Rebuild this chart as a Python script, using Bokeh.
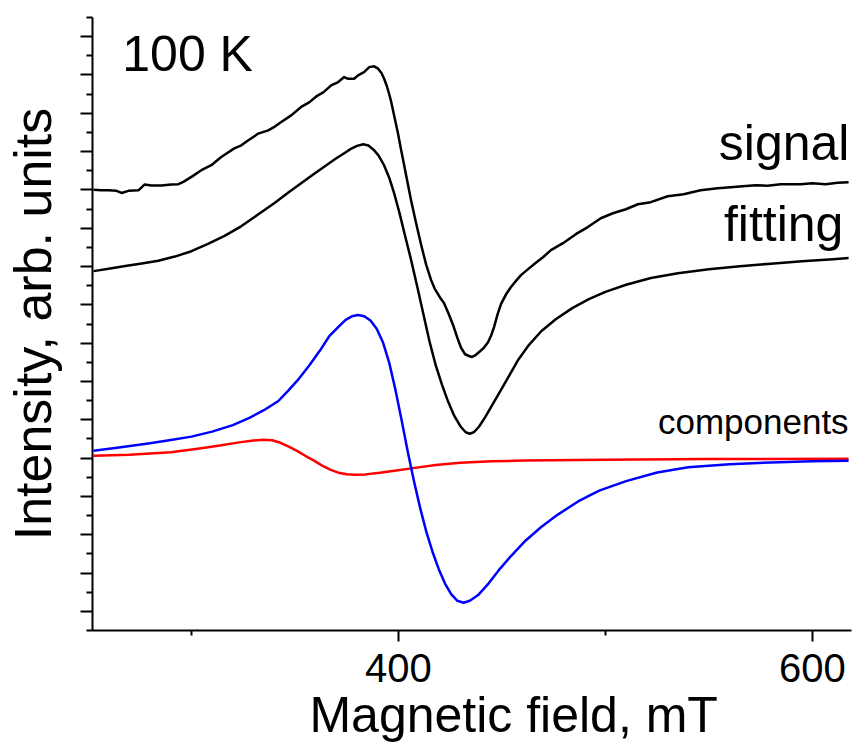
from bokeh.plotting import figure
from bokeh.models import Range1d, FixedTicker, Label
from bokeh.embed import file_html
from bokeh.resources import INLINE

FONT = "Liberation Sans"

# Experimental signal (mT, arb. units)
signal_field = [252.7, 256.5, 259.9, 263.8, 266.2, 269.6, 274.4, 277.3, 280.7, 285.5,
                290.3, 293.7, 296.1, 300.0, 304.8, 309.6, 314.4, 320.7, 324.1, 327.5,
                332.3, 337.1, 340.5, 343.4, 348.2, 353.0, 356.9, 360.3, 363.7, 367.5,
                370.9, 373.8, 375.7, 378.6, 380.5, 383.4, 385.9, 388.3, 390.2, 391.8,
                393.1, 394.3, 395.5, 396.5, 397.4, 398.6, 399.8, 401.0, 402.3, 404.2,
                406.1, 408.5, 411.0, 413.4, 415.8, 417.5, 419.2, 420.6, 422.0, 424.2,
                426.4, 428.4, 430.3, 432.2, 434.1, 435.6, 437.3, 439.0, 441.2, 443.3,
                444.8, 446.2, 447.9, 449.6, 452.0, 454.4, 456.8, 459.2, 462.8, 466.4,
                470.0, 473.7, 479.5, 485.7, 491.5, 497.8, 503.6, 509.9, 515.7, 521.9,
                530.1, 537.8, 546.0, 554.3, 560.5, 566.3, 572.6, 578.4, 584.6, 594.3,
                600.1, 606.4, 612.2, 617.5]
signal = [23.01, 22.98, 22.98, 22.95, 22.84, 22.95, 22.98, 23.28, 23.23, 23.23,
          23.28, 23.30, 23.42, 23.68, 24.03, 24.29, 24.72, 25.17, 25.33, 25.59,
          25.94, 26.11, 26.32, 26.54, 26.89, 27.33, 27.57, 27.88, 28.09, 28.46,
          28.63, 28.89, 28.80, 28.80, 28.98, 29.15, 29.41, 29.45, 29.33, 29.10,
          28.80, 28.45, 28.02, 27.60, 27.15, 26.55, 25.94, 25.25, 24.55, 23.50,
          22.46, 21.28, 20.12, 19.10, 18.29, 17.85, 17.55, 17.30, 17.10, 16.55,
          15.95, 15.30, 14.75, 14.42, 14.33, 14.28, 14.38, 14.54, 14.75, 15.05,
          15.40, 15.84, 16.50, 17.05, 17.55, 17.93, 18.25, 18.55, 18.88, 19.20,
          19.50, 19.86, 20.22, 20.69, 21.06, 21.52, 21.78, 21.99, 22.25, 22.36,
          22.67, 22.77, 22.98, 23.09, 23.14, 23.19, 23.24, 23.22, 23.30, 23.30,
          23.35, 23.30, 23.37, 23.40]

# Fitted curve
fit_field = [252.7, 260, 268, 276, 284, 292, 300, 308, 316, 324,
             332, 340, 347, 353, 359, 365, 370, 374, 377, 380,
             383, 385.5, 388, 390.5, 393, 395.5, 398, 400.5, 403, 406,
             409, 412, 415, 418, 421, 424, 427, 430, 432.5, 434.5,
             436.5, 439, 442, 445.5, 449.5, 454, 458, 463, 469, 476,
             484, 492, 500, 510, 522, 535, 550, 565, 580, 595,
             610, 617.5]
fitting = [18.76, 18.88, 19.03, 19.16, 19.30, 19.52, 19.80, 20.18, 20.60, 21.10,
           21.70, 22.30, 22.88, 23.35, 23.82, 24.27, 24.65, 24.93, 25.14, 25.30,
           25.38, 25.32, 25.10, 24.78, 24.30, 23.65, 22.80, 21.80, 20.70, 19.40,
           18.00, 16.55, 15.10, 13.85, 12.85, 11.95, 11.20, 10.65, 10.35, 10.27,
           10.36, 10.65, 11.15, 11.80, 12.55, 13.40, 14.15, 14.90, 15.62, 16.25,
           16.83, 17.30, 17.68, 18.05, 18.40, 18.65, 18.86, 19.02, 19.15, 19.28,
           19.38, 19.44]

# Component 1 (blue)
blue_field = [252.7, 265, 280, 290, 300, 310, 320, 328, 335, 342,
              347, 352, 357, 362, 366.5, 371, 374.5, 377.5, 380.5, 383.5,
              386.5, 389.5, 392.5, 395.5, 398.5, 401.5, 404.5, 407.5, 410.5, 413.5,
              416.5, 419.5, 422.5, 425.5, 428.5, 431.5, 434.5, 438.5, 443.5, 448.5,
              454.5, 461.5, 469, 477, 487, 497, 510, 525, 540, 560,
              580, 600, 617.5]
blue = [9.38, 9.55, 9.78, 9.95, 10.12, 10.38, 10.72, 11.10, 11.50, 11.98,
        12.55, 13.15, 13.85, 14.60, 15.35, 15.85, 16.22, 16.40, 16.47, 16.40,
        16.18, 15.75, 15.05, 14.00, 12.60, 11.00, 9.35, 7.80, 6.40, 5.15,
        4.10, 3.20, 2.45, 1.90, 1.55, 1.45, 1.55, 1.85, 2.45, 3.15,
        3.90, 4.70, 5.40, 6.05, 6.75, 7.30, 7.80, 8.25, 8.52, 8.68,
        8.77, 8.83, 8.86]

# Component 2 (red)
red_field = [252.7, 270, 290, 303, 313, 323, 330, 335, 339, 343,
             347, 351, 355, 359, 363, 367, 371, 375, 379, 384,
             391, 399, 408, 418, 430, 445, 460, 500, 550, 617.5]
red = [9.12, 9.18, 9.30, 9.49, 9.65, 9.82, 9.92, 9.96, 9.93, 9.80,
       9.60, 9.38, 9.12, 8.88, 8.62, 8.40, 8.24, 8.16, 8.13, 8.15,
       8.23, 8.35, 8.49, 8.64, 8.76, 8.83, 8.87, 8.91, 8.95, 8.96]

x_major = [400, 600]
x_minor = [300, 500]
y_major = [1, 3, 5, 7, 9, 11, 13, 15, 17, 19, 21, 23, 25, 27, 29, 31]
y_minor = [0, 2, 4, 6, 8, 10, 12, 14, 16, 18, 20, 22, 24, 26, 28, 30, 32]

p = figure(width=854, height=745, output_backend="svg", toolbar_location=None,
           x_range=Range1d(252.2, 618.9), y_range=Range1d(0, 32),
           min_border_left=91, min_border_right=3, min_border_top=17,
           min_border_bottom=114, background_fill_color="white",
           border_fill_color="white")
p.outline_line_color = None
p.xgrid.visible = False
p.ygrid.visible = False

xa = p.xaxis[0]
xa.ticker = FixedTicker(ticks=x_major, minor_ticks=x_minor)
# leading no-break spaces shift the centred label right, as in the reference
xa.axis_label = "\u00a0" * 6 + "Magnetic field, mT"
xa.axis_label_text_font = FONT
xa.axis_label_text_font_size = "50px"
xa.axis_label_text_font_style = "normal"
xa.axis_label_text_color = "black"
xa.axis_label_standoff = 2
xa.major_label_text_font = FONT
xa.major_label_text_font_size = "40px"
xa.major_label_text_color = "black"
xa.major_label_standoff = 12
xa.axis_line_width = 2
xa.axis_line_color = "black"
xa.major_tick_line_width = 2
xa.minor_tick_line_width = 2
xa.major_tick_out = 11
xa.major_tick_in = 0
xa.minor_tick_out = 5
xa.minor_tick_in = 0

ya = p.yaxis[0]
ya.ticker = FixedTicker(ticks=y_major, minor_ticks=y_minor)
ya.axis_label = "Intensity, arb. units"
ya.axis_label_text_font = FONT
ya.axis_label_text_font_size = "52px"
ya.axis_label_text_font_style = "normal"
ya.axis_label_text_color = "black"
ya.axis_label_text_line_height = 1.0
ya.axis_label_standoff = 19
ya.major_label_overrides = {t: "" for t in y_major}
ya.major_label_standoff = 0
ya.axis_line_width = 2
ya.axis_line_color = "black"
ya.major_tick_line_width = 2
ya.minor_tick_line_width = 2
ya.major_tick_out = 12
ya.major_tick_in = 0
ya.minor_tick_out = 6
ya.minor_tick_in = 0

p.line(signal_field, signal, line_color="black", line_width=2.5, line_join="round")
p.line(fit_field, fitting, line_color="black", line_width=2.5, line_join="round")
p.line(red_field, red, line_color="#ff0000", line_width=2.5, line_join="round")
p.line(blue_field, blue, line_color="#0000ff", line_width=2.5, line_join="round")

def note(x, y, text, size, align):
    p.add_layout(Label(x=x, y=y, text=text, text_font=FONT,
                       text_font_size=size, text_color="black",
                       text_baseline="alphabetic", text_align=align))

note(266.6, 30.12, "100 K", "50px", "left")
note(617.9, 25.44, "signal", "50px", "right")
note(615.0, 21.22, "fitting", "50px", "right")
note(617.5, 10.90, "components", "35px", "right")

open("out.html", "w").write(file_html(p, INLINE))
